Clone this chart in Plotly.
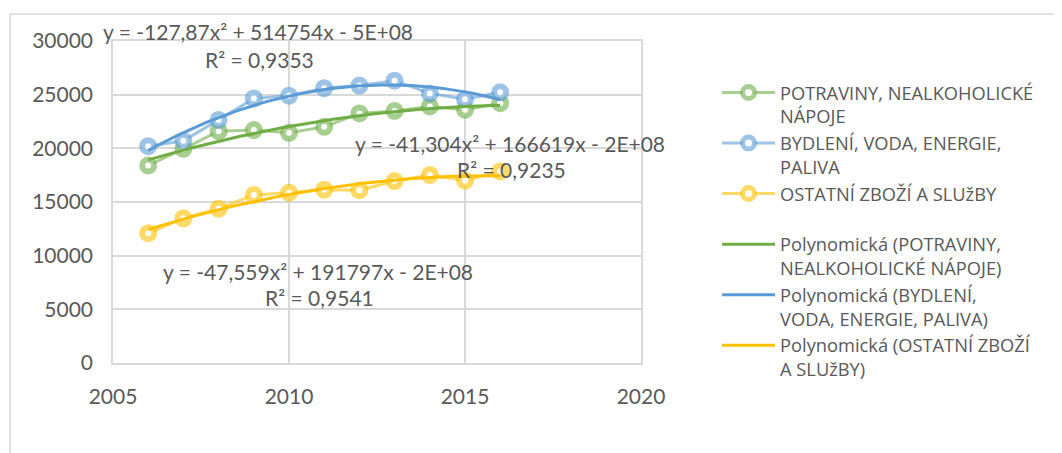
import numpy as np
import plotly.graph_objects as go

years = [2006, 2007, 2008, 2009, 2010, 2011, 2012, 2013, 2014, 2015, 2016]
potraviny = [18400, 19950, 21600, 21700, 21450, 22000, 23250, 23480, 23900, 23600, 24200]
bydleni = [20200, 20700, 22650, 24650, 24900, 25600, 25850, 26300, 25120, 24570, 25220]
ostatni = [12100, 13480, 14380, 15660, 15870, 16150, 16100, 16950, 17520, 17000, 17850]

names = ["POTRAVINY, NEALKOHOLICKÉ<br>NÁPOJE",
         "BYDLENÍ, VODA, ENERGIE,<br>PALIVA",
         "OSTATNÍ ZBOŽÍ A SLUžBY<br> "]
trend_names = ["Polynomická (POTRAVINY,<br>NEALKOHOLICKÉ NÁPOJE)",
               "Polynomická (BYDLENÍ,<br>VODA, ENERGIE, PALIVA)",
               "Polynomická (OSTATNÍ ZBOŽÍ<br>A SLUžBY)"]
equations = ["y = -41,304x² + 166619x - 2E+08",
             "y = -127,87x² + 514754x - 5E+08",
             "y = -47,559x² + 191797x - 2E+08"]
r2_labels = ["R² = 0,9235", "R² = 0,9353", "R² = 0,9541"]
x_ticks = [2005, 2010, 2015, 2020]
y_ticks = [0, 5000, 10000, 15000, 20000, 25000, 30000]

light = ["rgba(112,173,71,0.6)", "rgba(91,155,213,0.6)", "rgba(255,192,0,0.6)"]
dark = ["#70AD47", "#5B9BD5", "#FFC000"]
series = [potraviny, bydleni, ostatni]

FONT = "Lato, 'Open Sans', sans-serif"
LFONT = "'Open Sans', Lato, sans-serif"
TXT = "#595959"

fig = go.Figure()
for i, s in enumerate(series):
    fig.add_trace(go.Scatter(
        x=years, y=s, mode="lines+markers", name=names[i], legendgroup=f"g{i}",
        line=dict(color=light[i], width=3),
        marker=dict(symbol="circle", size=12, color="white",
                    line=dict(color=light[i], width=6)),
    ))
xa = np.array(years, dtype=float)
xs = np.linspace(years[0], years[-1], 121)
for i, s in enumerate(series):
    c = np.polyfit(xa - 2011, np.array(s, dtype=float), 2)
    fig.add_trace(go.Scatter(
        x=xs, y=np.polyval(c, xs - 2011), mode="lines", name=trend_names[i],
        legendgroup=f"t{i}", line=dict(color=dark[i], width=3),
    ))

# equation annotations: x in data coords, y in paper coords
ann_pos = [(2016.28, 0.683, 0.6024), (2009.12, 1.030, 0.944), (2010.82, 0.2856, 0.2049)]
for i, (ax, ey, ry) in enumerate(ann_pos):
    fig.add_annotation(x=ax, y=ey, yref="paper", text=equations[i], showarrow=False,
                       font=dict(family=FONT, size=21, color=TXT), xanchor="center", yanchor="middle")
    fig.add_annotation(x=ax + 0.05, y=ry, yref="paper", text=r2_labels[i], showarrow=False,
                       font=dict(family=FONT, size=21, color=TXT), xanchor="center", yanchor="middle")

# outer chart border
fig.add_shape(type="rect", xref="paper", yref="paper", x0=-0.195, y0=-0.4, x1=1.9, y1=1.0839,
              line=dict(color="#D9D9D9", width=1.5), fillcolor="rgba(0,0,0,0)", layer="below")

fig.update_layout(
    width=1062, height=453,
    margin=dict(l=105, r=429, t=33, b=98, autoexpand=False),
    paper_bgcolor="white", plot_bgcolor="white",
    font=dict(family=FONT, size=21, color=TXT),
    legend=dict(x=1.144, y=0.8975, xanchor="left", yanchor="top",
                font=dict(family=LFONT, size=18.3, color=TXT),
                itemwidth=53, valign="top", tracegroupgap=0,
                bgcolor="rgba(0,0,0,0)"),
    xaxis=dict(range=[2005, 2020], tickvals=x_ticks, showgrid=True, gridcolor="#D9D9D9",
               gridwidth=1.5, showline=True, linecolor="#D9D9D9", linewidth=1.5, mirror=True,
               zeroline=False, ticks="", ticklabelstandoff=14, tickformat="d",
               tickfont=dict(family=FONT, size=21, color=TXT)),
    yaxis=dict(range=[0, 30000], tickvals=y_ticks, showgrid=True, gridcolor="#D9D9D9",
               gridwidth=1.5, showline=True, linecolor="#D9D9D9", linewidth=1.5, mirror=True,
               zeroline=False, ticks="", ticklabelstandoff=14, tickformat="d",
               tickfont=dict(family=FONT, size=21, color=TXT)),
    showlegend=True,
)
fig.write_html("out.html")
